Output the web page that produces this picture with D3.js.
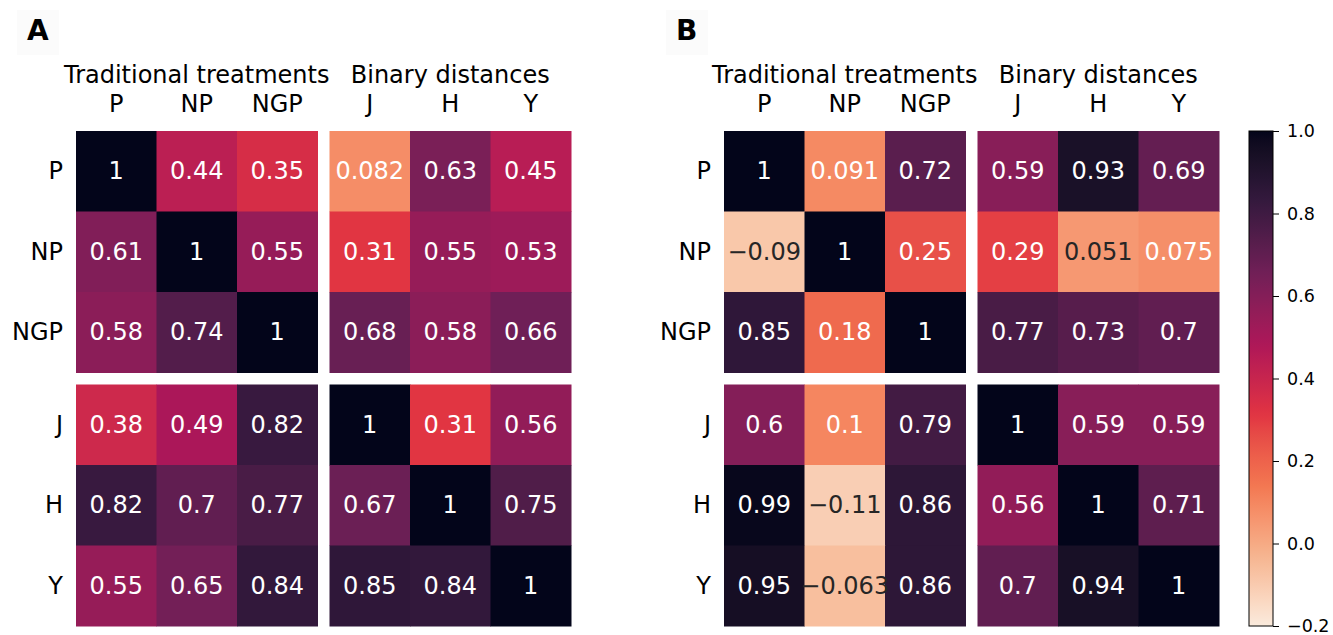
<!DOCTYPE html>
<html>
<head>
<meta charset="utf-8">
<script src="https://cdn.jsdelivr.net/npm/d3@7"></script>
<style>
  html, body { margin: 0; padding: 0; background: #fff; }
  svg { display: block; font-family: "DejaVu Sans", sans-serif; }
</style>
</head>
<body>
<svg id="chart" width="1333" height="635"></svg>
<script>
// ---------- data ----------
const labels = ["P", "NP", "NGP", "J", "H", "Y"];
const groupLabels = ["Traditional treatments", "Binary distances"];
const panelLabels = ["A", "B"];

const valuesA = [
  [1, 0.44, 0.35, 0.082, 0.63, 0.45],
  [0.61, 1, 0.55, 0.31, 0.55, 0.53],
  [0.58, 0.74, 1, 0.68, 0.58, 0.66],
  [0.38, 0.49, 0.82, 1, 0.31, 0.56],
  [0.82, 0.7, 0.77, 0.67, 1, 0.75],
  [0.55, 0.65, 0.84, 0.85, 0.84, 1]
];
const valuesB = [
  [1, 0.091, 0.72, 0.59, 0.93, 0.69],
  [-0.09, 1, 0.25, 0.29, 0.051, 0.075],
  [0.85, 0.18, 1, 0.77, 0.73, 0.7],
  [0.6, 0.1, 0.79, 1, 0.59, 0.59],
  [0.99, -0.11, 0.86, 0.56, 1, 0.71],
  [0.95, -0.063, 0.86, 0.7, 0.94, 1]
];
const colorTicks = [1.0, 0.8, 0.6, 0.4, 0.2, 0.0, -0.2];
const vmin = -0.2, vmax = 1.0;

// rocket colormap anchors (seaborn), dark -> light
const rocketStops = ["#03051a", "#35193e", "#701f57", "#ad1759", "#e13342", "#f37651", "#f6b48f", "#faebdd"];
const rocketPos = [0, 1/7, 2/7, 3/7, 4/7, 5/7, 6/7, 1];

// ---------- colour scale (rocket_r) ----------
const rocket = d3.scaleLinear().domain(rocketPos).range(rocketStops).interpolate(d3.interpolateLab).clamp(true);
const color = v => rocket(1 - (v - vmin) / (vmax - vmin));

function luminance(c) {
  const rgb = d3.rgb(c);
  const f = x => { x /= 255; return x <= 0.03928 ? x / 12.92 : Math.pow((x + 0.055) / 1.055, 2.4); };
  return 0.2126 * f(rgb.r) + 0.7152 * f(rgb.g) + 0.0722 * f(rgb.b);
}
const fmt = d3.format(".2~g");

const svg = d3.select("#chart");
const FS = 24;
const blockW = 241.5, gap = 12;
const top0 = 131;

function drawPanel(values, x0, letter, letterX) {
  const g = svg.append("g");
  // panel letter with faint box
  g.append("rect").attr("x", letterX - 10).attr("y", 10).attr("width", 42).attr("height", 45).attr("fill", "#fbfbfb");
  g.append("text").attr("x", letterX).attr("y", 40).attr("font-size", 28).attr("font-weight", "bold")
    .attr("fill", "#000").text(letter);

  const blocksX = [x0, x0 + blockW + gap];
  const blocksY = [top0, top0 + blockW + gap];
  const xs = labels.map((l, i) => d3.scaleBand().domain(labels.slice(Math.floor(i / 3) * 3, Math.floor(i / 3) * 3 + 3))
    .range([blocksX[Math.floor(i / 3)], blocksX[Math.floor(i / 3)] + blockW]));
  const ys = labels.map((l, i) => d3.scaleBand().domain(labels.slice(Math.floor(i / 3) * 3, Math.floor(i / 3) * 3 + 3))
    .range([blocksY[Math.floor(i / 3)], blocksY[Math.floor(i / 3)] + blockW]));
  const xPos = i => xs[i](labels[i]);
  const yPos = i => ys[i](labels[i]);
  const bw = xs[0].bandwidth();

  const cells = [];
  values.forEach((row, r) => row.forEach((v, c) => cells.push({ r, c, v })));

  g.selectAll("rect.cell").data(cells).join("rect").attr("class", "cell")
    .attr("x", d => xPos(d.c)).attr("y", d => yPos(d.r))
    .attr("width", bw + 0.5).attr("height", bw + 0.5)
    .attr("fill", d => color(d.v));

  g.selectAll("text.ann").data(cells).join("text").attr("class", "ann")
    .attr("x", d => xPos(d.c) + bw / 2).attr("y", d => yPos(d.r) + bw / 2)
    .attr("text-anchor", "middle").attr("dominant-baseline", "central")
    .attr("font-size", FS)
    .attr("fill", d => luminance(color(d.v)) > 0.408 ? "#262626" : "#ffffff")
    .text(d => fmt(d.v));

  // column labels
  g.selectAll("text.col").data(labels).join("text").attr("class", "col")
    .attr("x", (d, i) => xPos(i) + bw / 2).attr("y", 112)
    .attr("text-anchor", "middle").attr("font-size", FS).attr("fill", "#000").text(d => d);
  // row labels
  g.selectAll("text.row").data(labels).join("text").attr("class", "row")
    .attr("x", x0 - 13).attr("y", (d, i) => yPos(i) + bw / 2)
    .attr("text-anchor", "end").attr("dominant-baseline", "central")
    .attr("font-size", FS).attr("fill", "#000").text(d => d);
  // group headers
  g.selectAll("text.grp").data(groupLabels).join("text").attr("class", "grp")
    .attr("x", (d, i) => blocksX[i] + blockW / 2).attr("y", 83)
    .attr("text-anchor", "middle").attr("font-size", FS).attr("fill", "#000").text(d => d);
}

drawPanel(valuesA, 76, panelLabels[0], 27);
drawPanel(valuesB, 724, panelLabels[1], 676);

// ---------- colourbar ----------
const cbX = 1249, cbW = 24, cbTop = 131, cbBot = 626;
const cbScale = d3.scaleLinear().domain([vmin, vmax]).range([cbBot, cbTop]);
const defs = svg.append("defs");
const grad = defs.append("linearGradient").attr("id", "cbgrad")
  .attr("x1", 0).attr("y1", 1).attr("x2", 0).attr("y2", 0);
d3.range(0, 1.0001, 0.02).forEach(t => {
  grad.append("stop").attr("offset", t).attr("stop-color", color(vmin + t * (vmax - vmin)));
});
svg.append("rect").attr("x", cbX).attr("y", cbTop).attr("width", cbW).attr("height", cbBot - cbTop)
  .attr("fill", "url(#cbgrad)").attr("stroke", "#000").attr("stroke-width", 1);

const cbAxis = d3.axisRight(cbScale).tickValues(colorTicks).tickSize(6).tickPadding(8)
  .tickFormat(d3.format(".1f"));
const ax = svg.append("g").attr("transform", `translate(${cbX + cbW},0)`).call(cbAxis);
ax.attr("font-size", 17.5).attr("font-family", "DejaVu Sans, sans-serif");
ax.select(".domain").remove();
ax.selectAll("text").style("font-size", "17.5px").attr("fill", "#000");
ax.selectAll("line").attr("stroke", "#000");
</script>
</body>
</html>
